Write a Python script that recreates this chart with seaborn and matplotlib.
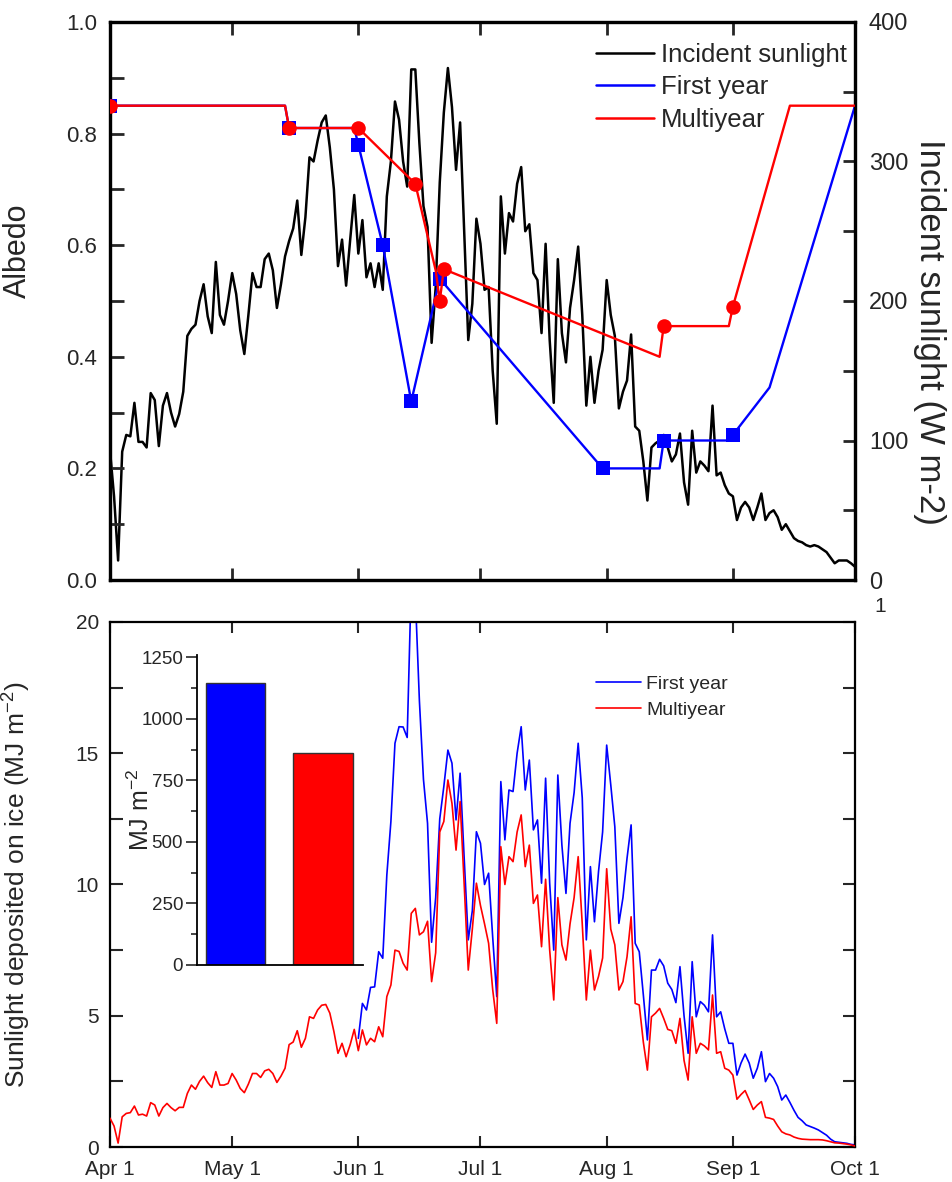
import numpy as np
import matplotlib
matplotlib.use("Agg")
import matplotlib.pyplot as plt
import seaborn as sns
from matplotlib.lines import Line2D

sns.set_style("ticks")
plt.rcParams['font.family'] = ['Liberation Sans', 'DejaVu Sans']
plt.rcParams['mathtext.fontset'] = 'custom'
plt.rcParams['mathtext.rm'] = 'Liberation Sans'
plt.rcParams['mathtext.it'] = 'Liberation Sans:italic'
plt.rcParams['mathtext.bf'] = 'Liberation Sans:bold'

# ---------------- data ----------------
month_days = [0, 30, 61, 91, 122, 153, 183]
month_labels = ['Apr 1', 'May 1', 'Jun 1', 'Jul 1', 'Aug 1', 'Sep 1', 'Oct 1']

# daily incident sunlight (W m-2), Apr 1 .. Oct 1
incident = [93, 60, 14, 92, 104, 103, 127, 99, 99, 95,
            134, 129, 96, 125, 134, 120, 110, 119, 135, 175,
            180, 183, 200, 212, 189, 177, 228, 190, 183, 200,
            220, 205, 179, 162, 190, 220, 210, 210, 230, 234,
            222, 195, 212, 232, 243, 252, 272, 233, 260, 303,
            300, 315, 328, 333, 310, 280, 225, 244, 211, 244,
            276, 234, 258, 217, 227, 210, 227, 208, 275, 300,
            343, 330, 300, 282, 366, 366, 313, 268, 253, 170,
            210, 285, 335, 367, 339, 294, 328, 250, 172, 198,
            259, 241, 208, 210, 150, 112, 275, 234, 263, 257,
            284, 296, 250, 255, 220, 215, 177, 241, 172, 127,
            230, 177, 156, 195, 215, 239, 190, 125, 160, 127,
            150, 165, 215, 190, 175, 123, 135, 143, 176, 110,
            107, 85, 57, 95, 98, 100, 104, 95, 85, 90,
            105, 70, 54, 107, 77, 85, 82, 78, 125, 75,
            77, 68, 62, 60, 43, 52, 56, 52, 43, 52,
            62, 43, 48, 50, 45, 36, 40, 35, 30, 28,
            27, 25, 24, 25, 24, 22, 20, 16, 12, 14,
            14, 14, 12, 9.5]

# albedo (line knots and observation markers)
fy_knot_days = [0, 43, 44, 60, 61, 67, 74, 81, 121, 135, 136, 152, 153, 162, 183]
fy_knot_alb = [0.85, 0.85, 0.81, 0.81, 0.78, 0.60, 0.32, 0.54, 0.20, 0.20, 0.25, 0.25, 0.26, 0.345, 0.85]
fy_obs_days = [0, 44, 61, 67, 74, 81, 121, 136, 153]
fy_obs_alb = [0.85, 0.81, 0.78, 0.60, 0.32, 0.54, 0.20, 0.25, 0.26]

my_knot_days = [0, 43, 44, 61, 75, 80, 81, 82, 135, 136, 152, 153, 167, 183]
my_knot_alb = [0.85, 0.85, 0.81, 0.81, 0.71, 0.555, 0.50, 0.557, 0.40, 0.455, 0.455, 0.49, 0.85, 0.85]
my_obs_days = [0, 44, 61, 75, 81, 82, 136, 153]
my_obs_alb = [0.85, 0.81, 0.81, 0.71, 0.50, 0.557, 0.455, 0.49]

# daily sunlight deposited (MJ m-2)
multiyear_dep = [1.1, 0.8, 0.15, 1.15, 1.28, 1.31, 1.56, 1.22, 1.25, 1.18,
                 1.69, 1.6, 1.18, 1.5, 1.66, 1.5, 1.38, 1.51, 1.51, 2.04,
                 2.36, 2.2, 2.5, 2.7, 2.45, 2.27, 2.87, 2.36, 2.36, 2.42,
                 2.8, 2.55, 2.23, 2.07, 2.4, 2.8, 2.8, 2.65, 2.9, 2.96,
                 2.8, 2.46, 2.7, 3.0, 3.9, 4.0, 4.43, 3.8, 4.14, 4.96,
                 4.9, 5.22, 5.4, 5.43, 5.1, 4.4, 3.57, 3.95, 3.44, 3.9,
                 4.48, 3.67, 4.46, 3.89, 4.14, 4.01, 4.58, 4.2, 5.73, 6.17,
                 7.5, 7.45, 7.0, 6.74, 8.9, 9.09, 8.08, 8.2, 8.6, 6.3,
                 7.4, 12.0, 12.4, 13.98, 13.09, 11.31, 13.16, 10.0, 6.74, 8.3,
                 10.05, 9.2, 8.5, 7.76, 6.0, 4.71, 11.44, 10.0, 11.06, 10.87,
                 12.0, 12.65, 10.68, 11.5, 9.28, 9.6, 7.63, 10.2, 7.5, 5.6,
                 9.5, 7.7, 7.12, 8.5, 9.5, 11.06, 8.5, 5.6, 7.5, 5.98,
                 6.5, 7.2, 10.6, 8.3, 7.7, 5.98, 6.3, 7.25, 8.77, 5.47,
                 5.41, 4.0, 2.93, 4.96, 5.1, 5.28, 4.9, 4.48, 4.43, 3.95,
                 4.9, 3.3, 2.55, 4.96, 3.57, 3.95, 3.85, 3.7, 5.79, 3.57,
                 3.63, 3.0, 2.93, 2.74, 1.82, 2.0, 2.15, 1.8, 1.43, 1.6,
                 1.73, 1.13, 1.1, 1.05, 0.8, 0.58, 0.5, 0.46, 0.38, 0.33,
                 0.3, 0.29, 0.28, 0.28, 0.28, 0.27, 0.24, 0.2, 0.16, 0.15,
                 0.13, 0.11, 0.08, 0.04]

# first-year ice deposit from Jun 1 (day 61) on
first_year_start = 61
first_year_dep = [4.14, 5.47, 5.22, 6.08, 6.1, 7.44, 7.19, 10.36, 12.4,
                  15.38, 16.01, 16.0, 15.6, 21.5, 21.0, 17.0, 14.0, 12.33, 7.8,
                  9.5, 12.5, 13.73, 15.12, 14.62, 12.46, 14.24, 11.0, 7.89, 9.0,
                  12.01, 11.57, 10.0, 10.43, 8.0, 5.73, 13.92, 11.7, 13.6, 13.54,
                  15.0, 16.01, 13.6, 14.74, 12.08, 12.46, 10.05, 14.05, 10.05, 7.5,
                  14.17, 11.5, 9.66, 12.33, 13.5, 15.38, 13.3, 7.89, 10.68, 8.58,
                  10.5, 12.0, 15.31, 13.8, 12.2, 8.52, 9.5, 11.0, 12.27, 7.76,
                  7.44, 5.8, 4.08, 6.74, 6.74, 7.15, 6.9, 6.24, 6.0, 5.5,
                  6.87, 5.0, 3.57, 7.06, 4.96, 5.54, 5.4, 5.15, 8.08, 4.96,
                  5.15, 4.5, 3.95, 3.95, 2.74, 3.2, 3.54, 3.2, 2.62, 3.0,
                  3.63, 2.49, 2.8, 2.62, 2.3, 1.79, 1.98, 1.7, 1.4, 1.13,
                  1.0, 0.84, 0.78, 0.72, 0.65, 0.55, 0.45, 0.3, 0.2, 0.18,
                  0.16, 0.14, 0.1, 0.08]

inset_cats = ['First year', 'Multiyear']
inset_totals = [1145, 860]

BLUE = '#0000FF'
RED = '#FF0000'

days = np.arange(len(incident))
fy_days = np.arange(first_year_start, first_year_start + len(first_year_dep))
my_days = np.arange(len(multiyear_dep))

# ---------------- figure ----------------
fig = plt.figure(figsize=(9.53, 11.82), dpi=100)
ax1 = fig.add_axes([0.1154, 0.5093, 0.7818, 0.4721])
ax1r = ax1.twinx()
ax2 = fig.add_axes([0.1154, 0.0296, 0.7818, 0.4442])
ins = fig.add_axes([0.2067, 0.1836, 0.1742, 0.2623])

# top panel: incident sunlight on right axis (behind)
sns.lineplot(x=days, y=incident, ax=ax1r, color='black', linewidth=1.8,
             estimator=None, legend=False)
ax1.set_zorder(ax1r.get_zorder() + 1)
ax1.patch.set_visible(False)

sns.lineplot(x=fy_knot_days, y=fy_knot_alb, ax=ax1, color=BLUE, linewidth=1.7,
             estimator=None, sort=False, legend=False, zorder=2)
ax1.scatter(fy_obs_days, fy_obs_alb, marker='s', s=95, color=BLUE, linewidths=0, zorder=3)
sns.lineplot(x=my_knot_days, y=my_knot_alb, ax=ax1, color=RED, linewidth=1.7,
             estimator=None, sort=False, legend=False, zorder=4)
ax1.scatter(my_obs_days, my_obs_alb, marker='o', s=110, color=RED, linewidths=0, zorder=5)

ax1.set_xlim(0, 183)
ax1.set_ylim(0, 1.0)
ax1r.set_ylim(0, 400)
ax1.set_xticks(month_days)
ax1.set_xticklabels([])
yt = np.round(np.arange(0, 1.001, 0.1), 1)
ax1.set_yticks(yt)
ax1.set_yticklabels([f'{v:.1f}' if i % 2 == 0 else '' for i, v in enumerate(yt)])
rt = np.arange(0, 401, 50)
ax1r.set_yticks(rt)
ax1r.set_yticklabels([str(v) if v % 100 == 0 else '' for v in rt])

for a in (ax1, ax1r):
    for s in a.spines.values():
        s.set_linewidth(2.3)
        s.set_color('black')
ax1.tick_params(axis='x', which='both', direction='in', top=True, bottom=True,
                length=9, width=2, labelbottom=False)
ax1.tick_params(axis='y', direction='in', left=True, right=False, length=10, width=2,
                labelsize=16, pad=9)
ax1r.tick_params(axis='y', direction='in', right=True, left=False, length=9, width=2,
                 labelsize=17, pad=10)
ax1.set_xlabel('')
ax1.set_ylabel('Albedo', fontsize=22)
ax1.yaxis.set_label_coords(-0.103, 0.59)
ax1r.set_ylabel('Incident sunlight (W m-2)', fontsize=25, rotation=270)
ax1r.yaxis.set_label_coords(1.122, 0.444)

h_top = [Line2D([], [], color='black', lw=1.8),
         Line2D([], [], color=BLUE, lw=1.8),
         Line2D([], [], color=RED, lw=1.8)]
ax1.legend(h_top, ['Incident sunlight', 'First year', 'Multiyear'],
           loc='upper left', bbox_to_anchor=(0.652, 0.962), borderaxespad=0,
           borderpad=0, frameon=False, fontsize=18.5, handlelength=2.25,
           handletextpad=0.3, labelspacing=0.32)

# bottom panel: deposited sunlight
sns.lineplot(x=fy_days, y=first_year_dep, ax=ax2, color=BLUE, linewidth=1.2,
             estimator=None, legend=False, zorder=2)
sns.lineplot(x=my_days, y=multiyear_dep, ax=ax2, color=RED, linewidth=1.2,
             estimator=None, legend=False, zorder=3)
ax2.set_xlim(0, 183)
ax2.set_ylim(0, 20)
ax2.set_xticks(month_days)
ax2.set_xticklabels(month_labels)
lt = np.arange(0, 20.01, 2.5)
ax2.set_yticks(lt)
ax2.set_yticklabels([f'{v:g}' if v % 5 == 0 else '' for v in lt])
for s in ax2.spines.values():
    s.set_linewidth(1.6)
    s.set_color('black')
ax2.tick_params(axis='x', direction='in', top=True, bottom=True, length=8, width=1.5,
                labelsize=15, pad=9)
ax2.tick_params(axis='y', direction='in', left=True, right=True, length=9, width=1.5,
                labelsize=15, pad=8)
ax2.set_xlabel('')
ax2.set_ylabel('Sunlight deposited on ice (MJ m$^{-2}$)', fontsize=19)
ax2.yaxis.set_label_coords(-0.103, 0.5)
h_bot = [Line2D([], [], color=BLUE, lw=1.2), Line2D([], [], color=RED, lw=1.2)]
ax2.legend(h_bot, ['First year', 'Multiyear'], loc='upper left',
           bbox_to_anchor=(0.652, 0.898), borderaxespad=0, borderpad=0,
           frameon=False, fontsize=14, handlelength=2.35, handletextpad=0.25,
           labelspacing=0.4)

# inset bar chart
sns.barplot(x=inset_cats, y=inset_totals, hue=inset_cats, palette=[BLUE, RED],
            saturation=1, width=0.68, edgecolor='#333333', linewidth=1,
            legend=False, ax=ins)
ins.set_facecolor('none')
ins.set_xlim(-0.44, 1.457)
ins.set_ylim(0, 1260)
ins.set_xticks([])
ins.set_yticks(np.arange(0, 1251, 250))
ins.set_yticks(np.arange(125, 1251, 250), minor=True)
ins.tick_params(axis='y', which='major', direction='out', length=8, width=1.2,
                labelsize=13.5, pad=2)
ins.tick_params(axis='y', which='minor', direction='out', length=4, width=1.2)
for side in ('top', 'right'):
    ins.spines[side].set_visible(False)
for side in ('left', 'bottom'):
    ins.spines[side].set_linewidth(1.3)
    ins.spines[side].set_color('black')
ins.set_xlabel('')
ins.set_ylabel('MJ m$^{-2}$', fontsize=18)
ins.yaxis.set_label_coords(-0.26, 0.5)

fig.text(880 / 953, 1 - 607 / 1182, '1', fontsize=15, ha='center', va='center')

fig.savefig('out.png', dpi=100)
